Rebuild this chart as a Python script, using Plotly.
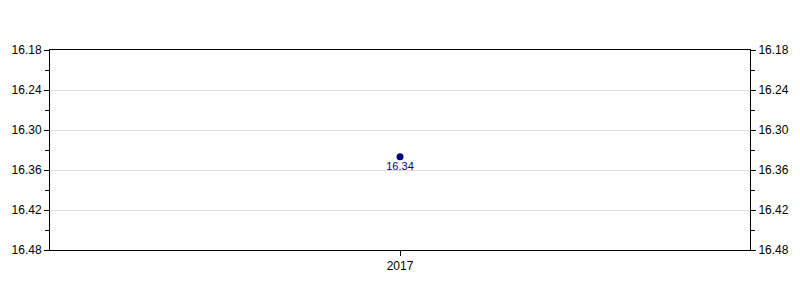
import plotly.graph_objects as go

years = ["2017"]
values = [16.34]
labels = ["16.34"]
tick_vals = [16.18, 16.24, 16.30, 16.36, 16.42, 16.48]
tick_text = ["16.18", "16.24", "16.30", "16.36", "16.42", "16.48"]

fig = go.Figure()
fig.add_trace(go.Scatter(
    x=years, y=values, mode="markers+text",
    marker=dict(color="#000080", size=7),
    text=labels, textposition="bottom center",
    textfont=dict(color="#000080", size=11, family="Liberation Sans, Arial"),
    showlegend=False, hoverinfo="skip"))
# invisible trace for right axis
fig.add_trace(go.Scatter(x=years, y=values, yaxis="y2", mode="markers",
                         marker=dict(opacity=0), showlegend=False, hoverinfo="skip"))

yaxis_common = dict(
    range=[16.48, 16.18], tickvals=tick_vals, ticktext=tick_text,
    ticks="outside", ticklen=5, tickcolor="#000", tickwidth=1,
    minor=dict(ticks="outside", ticklen=4, tickcolor="#000", dtick=0.03, tick0=16.18, showgrid=False),
    showline=True, linecolor="#000", linewidth=1,
    tickfont=dict(size=12, color="#000", family="Liberation Sans, Arial"),
    zeroline=False,
)
fig.update_layout(
    width=800, height=300,
    margin=dict(l=50, r=50, t=50, b=50),
    paper_bgcolor="white", plot_bgcolor="white",
    xaxis=dict(type="category", showline=True, linecolor="#000", linewidth=1, mirror=True,
               ticks="outside", ticklen=5, tickcolor="#000", showgrid=False,
               tickfont=dict(size=12, color="#000", family="Liberation Sans, Arial")),
    yaxis=dict(**yaxis_common, showgrid=True, gridcolor="#dddddd", gridwidth=1),
    yaxis2=dict(**yaxis_common, overlaying="y", side="right", showgrid=False),
)
fig.write_html("out.html")
